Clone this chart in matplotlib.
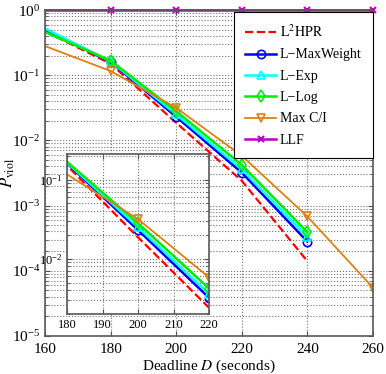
import numpy as np
import matplotlib
matplotlib.use("Agg")
import matplotlib.pyplot as plt
from matplotlib.ticker import LogLocator, LogFormatterMathtext, NullFormatter

plt.rcParams['font.family'] = ['Liberation Serif', 'DejaVu Serif']
plt.rcParams['mathtext.fontset'] = 'stix'

deadline = [160, 180, 200, 220, 240, 260]
l2hpr = [0.47, 0.150, 0.0186, 0.0024, 0.00014]
maxweight = [0.50, 0.160, 0.0230, 0.0032, 0.00028]
lexp = [0.52, 0.163, 0.0250, 0.0036, 0.00033]
llog = [0.46, 0.167, 0.0280, 0.0042, 0.00039]
maxci = [0.28, 0.116, 0.0316, 0.0058, 0.00068, 0.000055]
llf = [1.0, 1.0, 1.0, 1.0, 1.0, 1.0]

orange = '#E08010'
series = [
    ('$\\mathrm{L^2HPR}$', l2hpr, dict(color='red', ls='--', lw=1.6)),
    ('L\u2212MaxWeight', maxweight, dict(color='blue', marker='o', lw=1.8)),
    ('L\u2212Exp', lexp, dict(color='cyan', marker='^', lw=1.8)),
    ('L\u2212Log', llog, dict(color='#00EE00', marker='d', lw=1.8)),
    ('Max C/I', maxci, dict(color=orange, marker='v', lw=1.3)),
]

fig = plt.figure(figsize=(3.86, 3.74), dpi=100)
ax = fig.add_axes([0.117, 0.102, 0.849, 0.871])


def style(a, fs):
    a.set_yscale('log')
    a.tick_params(which='both', direction='in', top=True, right=True,
                  labelsize=fs, color='0.3')
    for s in a.spines.values():
        s.set_color('0.35')
        s.set_linewidth(1.2)
    a.yaxis.set_major_locator(LogLocator(base=10))
    a.yaxis.set_minor_locator(LogLocator(base=10, subs=np.arange(2, 10)))
    a.yaxis.set_major_formatter(LogFormatterMathtext())
    a.yaxis.set_minor_formatter(NullFormatter())
    a.grid(True, which='major', ls=':', color='0.45', lw=0.8)
    a.grid(True, which='minor', axis='y', ls=':', color='0.45', lw=0.8)


style(ax, 11)
ax.tick_params(axis='x', pad=5)
for label, vals, kw in series:
    ax.plot(deadline[:len(vals)], vals, label=label, mfc='none', ms=6,
            markevery=slice(1, None), mew=1.2, **kw)
ax.plot(deadline, llf, color='#C000C0', marker='x', lw=1.8, ms=5, mew=1.5,
        label='LLF', markevery=slice(1, None), clip_on=False)
ax.set_xlim(160, 260)
ax.set_ylim(1e-5, 1)
ax.set_xticks([160, 180, 200, 220, 240, 260])
ax.set_xlabel('Deadline $D$ (seconds)', fontsize=11, labelpad=1)
ax.set_ylabel('$P_{\\mathrm{viol}}$', fontsize=12, labelpad=-2)
ax.yaxis.set_label_coords(-0.085, 0.5)

leg = ax.legend(loc='upper right', fontsize=10, handlelength=2.2,
                fancybox=False, framealpha=1, edgecolor='black',
                borderpad=0.8, labelspacing=0.6, handletextpad=0.3,
                borderaxespad=0, bbox_to_anchor=(1.0, 0.993))
leg.get_frame().set_linewidth(0.8)

ins = fig.add_axes([0.174, 0.16, 0.368, 0.428])
style(ins, 9)
for label, vals, kw in series:
    ins.plot(deadline[:len(vals)], vals, mfc='none', ms=6,
             markevery=slice(2, None), mew=1.2, **kw)
ins.set_xlim(180, 220)
ins.set_ylim(2e-3, 0.21)
ins.set_xticks([180, 190, 200, 210, 220])

fig.savefig('out.png', dpi=100)
